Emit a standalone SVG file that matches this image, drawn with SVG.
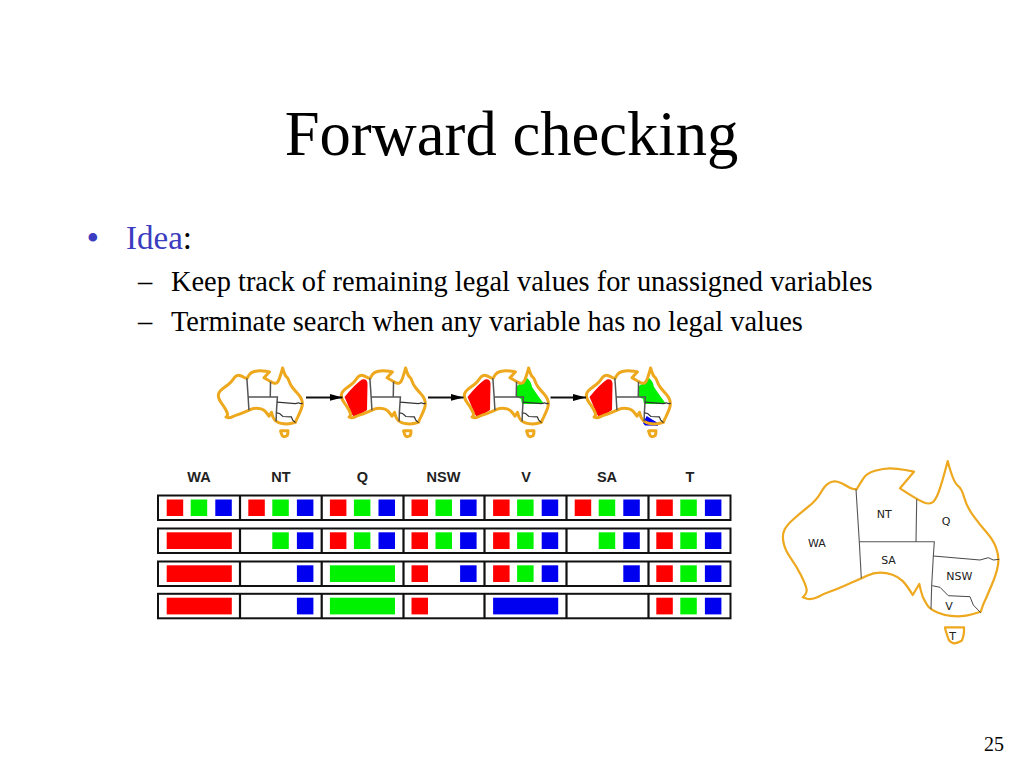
<svg xmlns="http://www.w3.org/2000/svg" xmlns:xlink="http://www.w3.org/1999/xlink" width="1024" height="768" viewBox="0 0 1024 768">
<style>
text{font-family:"Liberation Serif","Times New Roman",serif;fill:#000}
.idea{fill:#3c3cc0}
.hd{font-family:"Liberation Sans",Arial,sans-serif;font-weight:700;font-size:14.5px;text-anchor:middle;fill:#222}
.ml{font-family:"DejaVu Sans",sans-serif;font-size:11px;text-anchor:middle;fill:#222}
.r{fill:#ff0000}.g{fill:#00f200}.b{fill:#0000f0}
.cell{fill:#fff;stroke:#111;stroke-width:2}
.div{stroke:#111;stroke-width:2.2;fill:none}
.ol{fill:none;stroke:#eea81e;vector-effect:non-scaling-stroke;stroke-linejoin:round}
.bd{fill:none;stroke:#555;stroke-width:var(--bw,1.1);vector-effect:non-scaling-stroke}
.bdd{fill:none;stroke:#333;stroke-width:var(--cw,.9);vector-effect:non-scaling-stroke}
.sm{stroke-width:3;--bw:1.5;--cw:1.2}
.arrow{stroke:#111;stroke-width:2;fill:none;marker-end:url(#ah)}
</style>
<defs>
<marker id="ah" markerUnits="userSpaceOnUse" markerWidth="14" markerHeight="8" refX="13" refY="4" orient="auto"><path d="M0 0.5L13 4L0 7.5Z" fill="#000"/></marker>
<g id="map">
<path class="ol" d="M856.7 489.3L853 488.8Q850 488.3 845.9 485.5Q841.7 482.7 837.5 481.7Q833.3 480.7 829.2 482.9Q825 485 820.9 492.5Q816.7 500 808.4 506.7Q800 513.3 793.4 519.2Q786.7 525 784.4 530Q782 535 783.5 542.5Q785 550 790.9 558.4Q796.7 566.7 800.9 575Q805 583.3 806.2 587.5Q808 593 802.7 597.3L807 598.7Q811.7 600 818.4 596.7Q825 593.3 830.9 591.3Q836.7 589.3 843.4 586.3Q850 583.3 855.9 580.8Q861.7 578.3 867.5 575.5Q873.3 572.7 880 572.7Q886.7 572.7 892.5 574.7Q898.3 576.7 902.5 580.9Q906.7 585 912.7 595L919.3 584Q920.5 590 922.7 596.7Q926.7 605 929.2 607.5Q931.7 610 937.5 612.5Q943.3 615 950.8 615.9Q958.3 616.7 964.2 615.9Q970 615 980.7 611.7Q983 604 986.7 596.7L991.7 585Q996.7 573.3 998 565Q999.3 556.7 996.3 548.4Q993.3 540 986.7 532.5Q980 525 973.4 515.9Q966.7 506.7 964.2 497.5Q961.7 488.3 957.5 485.3Q953.3 482.3 947.7 461L945.2 470.5Q942.7 480 939.7 489.2Q936.7 498.3 933.4 501.7Q930 505 923.4 502.2Q916.7 499.3 900 488.3L914 471.7L905.4 470Q896.7 468.3 890 468.3Q883.3 468.3 875 470.8Q866.7 473.3 863.4 478.3Q860 483.3 856.7 489.3Z"/>
<path class="bd" d="M856 489.3L859.3 541.7L861.3 578.3M859.3 541.7L934.3 541.7L933.3 556.7L931.7 585L931 609.3M916.7 499.3L916 541.7"/>
<path class="bdd" d="M933.3 556L980 560L988.3 557.7L993.3 560L999.3 559.3M932.3 585.7L940 587.3L948.3 595.7L970 596.7L973.3 605L980.7 612.7"/>
</g>
<path id="tas" class="ol" d="M945 627.3L964 627.3Q964.5 635 961.7 640.7Q957 643.5 953.3 643.3Q948.5 641 948.3 638.3Q945.5 631 945 627.3Z"/>
<path id="wa-red" class="r" d="M344.5 397Q355 384 362 379.5Q368 378.5 367.5 385L367 410Q360 415 354 417.5Q350 412 348 405Z"/>
<path id="q-green" class="g" d="M517 386L527 378Q531 381 532 387Q538 396 544 404L522 404L521 399L517 397Z"/>
</defs>
<rect width="1024" height="768" fill="#fff"/>
<g id="title"><text x="511.5" y="155" font-size="62.6" text-anchor="middle">Forward checking</text></g>
<g id="bullets">
<text x="86.4" y="250" font-size="36" class="idea">•</text>
<text x="126" y="249.3" font-size="33"><tspan class="idea">Idea</tspan>:</text>
<text x="138" y="290.5" font-size="28.4">–</text>
<text x="171" y="290.5" font-size="28.4">Keep track of remaining legal values for unassigned variables</text>
<text x="138" y="330.5" font-size="28.4">–</text>
<text x="171" y="330.5" font-size="28.4">Terminate search when any variable has no legal values</text>
</g>
<g id="small-map-1" class="sm">
<use xlink:href="#map" href="#map" transform="translate(218 368) scale(.39 .36) translate(-782 -461)"/>
<use xlink:href="#tas" href="#tas" transform="translate(217 371) scale(.39 .36) translate(-782 -461)"/></g>
<g id="small-map-2" class="sm">
<use xlink:href="#wa-red" href="#wa-red"/>
<use xlink:href="#map" href="#map" transform="translate(341 368) scale(.39 .36) translate(-782 -461)"/>
<use xlink:href="#tas" href="#tas" transform="translate(340 371) scale(.39 .36) translate(-782 -461)"/></g>
<g id="small-map-3" class="sm">
<use xlink:href="#wa-red" href="#wa-red" transform="translate(123 0)"/>
<use xlink:href="#q-green" href="#q-green"/>
<use xlink:href="#map" href="#map" transform="translate(464 368) scale(.39 .36) translate(-782 -461)"/>
<use xlink:href="#tas" href="#tas" transform="translate(463 371) scale(.39 .36) translate(-782 -461)"/></g>
<g id="small-map-4" class="sm">
<use xlink:href="#wa-red" href="#wa-red" transform="translate(245 0)"/>
<use xlink:href="#q-green" href="#q-green" transform="translate(122 0)"/>
<path class="b" d="M643 423L646.7 416L653 420L658 423L658 425.7L645 425.5Z"/>
<use xlink:href="#map" href="#map" transform="translate(586 368) scale(.39 .36) translate(-782 -461)"/>
<use xlink:href="#tas" href="#tas" transform="translate(585 371) scale(.39 .36) translate(-782 -461)"/></g>
<g id="connectors">
<path class="arrow" d="M306 397.4L342.5 397.4"/>
<path class="arrow" d="M428 397.4L463.5 397.4"/>
<path class="arrow" d="M550.5 397.4L586 397.4"/>
</g>
<g id="headers">
<text class="hd" x="199" y="481.5">WA</text>
<text class="hd" x="281" y="481.5">NT</text>
<text class="hd" x="362.5" y="481.5">Q</text>
<text class="hd" x="443.5" y="481.5">NSW</text>
<text class="hd" x="526" y="481.5">V</text>
<text class="hd" x="607" y="481.5">SA</text>
<text class="hd" x="690" y="481.5">T</text>
</g>
<g id="row-1">
<rect class="cell" x="158" y="495.5" width="572.5" height="24.5"/>
<path class="div" d="M240 495.5V520M321.7 495.5V520M403.5 495.5V520M484.5 495.5V520M566.5 495.5V520M648.5 495.5V520"/>
<rect class="r" x="166.7" y="499.5" width="16.5" height="16.5"/><rect class="g" x="190.7" y="499.5" width="16.5" height="16.5"/><rect class="b" x="215.3" y="499.5" width="16.5" height="16.5"/>
<rect class="r" x="248.3" y="499.5" width="16.5" height="16.5"/><rect class="g" x="272.3" y="499.5" width="16.5" height="16.5"/><rect class="b" x="296.9" y="499.5" width="16.5" height="16.5"/>
<rect class="r" x="329.9" y="499.5" width="16.5" height="16.5"/><rect class="g" x="353.9" y="499.5" width="16.5" height="16.5"/><rect class="b" x="378.5" y="499.5" width="16.5" height="16.5"/>
<rect class="r" x="411.5" y="499.5" width="16.5" height="16.5"/><rect class="g" x="435.5" y="499.5" width="16.5" height="16.5"/><rect class="b" x="460.1" y="499.5" width="16.5" height="16.5"/>
<rect class="r" x="493.1" y="499.5" width="16.5" height="16.5"/><rect class="g" x="517.1" y="499.5" width="16.5" height="16.5"/><rect class="b" x="541.7" y="499.5" width="16.5" height="16.5"/>
<rect class="r" x="574.7" y="499.5" width="16.5" height="16.5"/><rect class="g" x="598.7" y="499.5" width="16.5" height="16.5"/><rect class="b" x="623.3" y="499.5" width="16.5" height="16.5"/>
<rect class="r" x="656.3" y="499.5" width="16.5" height="16.5"/><rect class="g" x="680.3" y="499.5" width="16.5" height="16.5"/><rect class="b" x="704.9" y="499.5" width="16.5" height="16.5"/>
</g>
<g id="row-2">
<rect class="cell" x="158" y="528.5" width="572.5" height="24.5"/>
<path class="div" d="M240 528.5V553M321.7 528.5V553M403.5 528.5V553M484.5 528.5V553M566.5 528.5V553M648.5 528.5V553"/>
<rect class="r" x="166.7" y="532.3" width="65.1" height="16.7"/>
<rect class="g" x="272.3" y="532.3" width="16.5" height="16.7"/><rect class="b" x="296.9" y="532.3" width="16.5" height="16.7"/>
<rect class="r" x="329.9" y="532.3" width="16.5" height="16.7"/><rect class="g" x="353.9" y="532.3" width="16.5" height="16.7"/><rect class="b" x="378.5" y="532.3" width="16.5" height="16.7"/>
<rect class="r" x="411.5" y="532.3" width="16.5" height="16.7"/><rect class="g" x="435.5" y="532.3" width="16.5" height="16.7"/><rect class="b" x="460.1" y="532.3" width="16.5" height="16.7"/>
<rect class="r" x="493.1" y="532.3" width="16.5" height="16.7"/><rect class="g" x="517.1" y="532.3" width="16.5" height="16.7"/><rect class="b" x="541.7" y="532.3" width="16.5" height="16.7"/>
<rect class="g" x="598.7" y="532.3" width="16.5" height="16.7"/><rect class="b" x="623.3" y="532.3" width="16.5" height="16.7"/>
<rect class="r" x="656.3" y="532.3" width="16.5" height="16.7"/><rect class="g" x="680.3" y="532.3" width="16.5" height="16.7"/><rect class="b" x="704.9" y="532.3" width="16.5" height="16.7"/>
</g>
<g id="row-3">
<rect class="cell" x="158" y="561.5" width="572.5" height="24.5"/>
<path class="div" d="M240 561.5V586M321.7 561.5V586M403.5 561.5V586M484.5 561.5V586M566.5 561.5V586M648.5 561.5V586"/>
<rect class="r" x="166.7" y="565.3" width="65.1" height="16.7"/>
<rect class="b" x="296.9" y="565.3" width="16.5" height="16.7"/>
<rect class="g" x="329.9" y="565.3" width="65.1" height="16.7"/>
<rect class="r" x="411.5" y="565.3" width="16.5" height="16.7"/><rect class="b" x="460.1" y="565.3" width="16.5" height="16.7"/>
<rect class="r" x="493.1" y="565.3" width="16.5" height="16.7"/><rect class="g" x="517.1" y="565.3" width="16.5" height="16.7"/><rect class="b" x="541.7" y="565.3" width="16.5" height="16.7"/>
<rect class="b" x="623.3" y="565.3" width="16.5" height="16.7"/>
<rect class="r" x="656.3" y="565.3" width="16.5" height="16.7"/><rect class="g" x="680.3" y="565.3" width="16.5" height="16.7"/><rect class="b" x="704.9" y="565.3" width="16.5" height="16.7"/>
</g>
<g id="row-4">
<rect class="cell" x="158" y="593.8" width="572.5" height="24.5"/>
<path class="div" d="M240 593.8V618.3M321.7 593.8V618.3M403.5 593.8V618.3M484.5 593.8V618.3M566.5 593.8V618.3M648.5 593.8V618.3"/>
<rect class="r" x="166.7" y="597.7" width="65.1" height="16.7"/>
<rect class="b" x="296.9" y="597.7" width="16.5" height="16.7"/>
<rect class="g" x="329.9" y="597.7" width="65.1" height="16.7"/>
<rect class="r" x="411.5" y="597.7" width="16.5" height="16.7"/>
<rect class="b" x="493.1" y="597.7" width="65.1" height="16.7"/>
<rect class="r" x="656.3" y="597.7" width="16.5" height="16.7"/><rect class="g" x="680.3" y="597.7" width="16.5" height="16.7"/><rect class="b" x="704.9" y="597.7" width="16.5" height="16.7"/>
</g>
<g id="big-map" stroke-width="2.2">
<use xlink:href="#map" href="#map"/>
<use xlink:href="#tas" href="#tas"/>
<text class="ml" x="817" y="546.7">WA</text>
<text class="ml" x="884.3" y="517.5">NT</text>
<text class="ml" x="946" y="525">Q</text>
<text class="ml" x="888.5" y="564.3">SA</text>
<text class="ml" x="959.3" y="580">NSW</text>
<text class="ml" x="949" y="610">V</text>
<text class="ml" x="952.7" y="640">T</text>
</g>
<g id="page"><text x="984" y="751" font-size="20">25</text></g>
</svg>
